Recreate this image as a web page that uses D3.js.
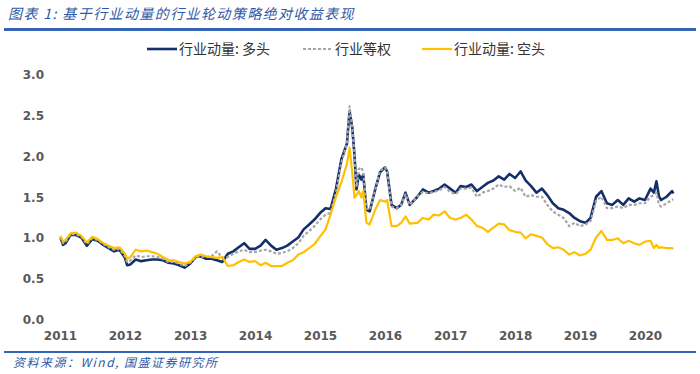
<!DOCTYPE html>
<html>
<head>
<meta charset="utf-8">
<script src="https://cdn.jsdelivr.net/npm/d3@7"></script>
<style>
  body { margin: 0; background: #fff; }
  svg { display: block; }
</style>
</head>
<body>
<svg id="chart" width="700" height="374"></svg>
<script>
// data
var dates = [
  "2011-01-04","2011-01-18","2011-02-01","2011-03-01","2011-04-01","2011-05-01","2011-06-01","2011-07-01","2011-08-01","2011-09-01","2011-10-01","2011-11-01","2011-12-01",
  "2012-01-01","2012-01-13","2012-02-01","2012-03-01","2012-04-01","2012-05-01","2012-06-01","2012-07-01","2012-08-01","2012-09-01","2012-10-01","2012-11-01","2012-12-01",
  "2013-01-01","2013-02-01","2013-03-01","2013-04-01","2013-05-01","2013-06-01","2013-07-01","2013-08-01","2013-09-01","2013-10-01","2013-11-01","2013-12-01",
  "2014-01-01","2014-02-01","2014-03-01","2014-04-01","2014-05-01","2014-06-01","2014-07-01","2014-08-01","2014-09-01","2014-10-01","2014-11-01","2014-12-01",
  "2015-01-01","2015-02-01","2015-03-01","2015-04-01","2015-05-01","2015-06-01","2015-06-16","2015-07-01","2015-07-14","2015-07-25","2015-08-07","2015-08-22","2015-09-01","2015-09-19","2015-10-07","2015-11-07","2015-12-04",
  "2016-01-01","2016-01-13","2016-02-07","2016-03-07","2016-04-01","2016-04-25","2016-05-19","2016-07-01","2016-08-01","2016-09-01","2016-10-01","2016-11-01","2016-12-01",
  "2017-01-01","2017-02-01","2017-03-01","2017-04-01","2017-05-01","2017-06-01","2017-07-01","2017-08-01","2017-09-01","2017-10-01","2017-11-01","2017-12-01",
  "2018-01-01","2018-02-01","2018-03-01","2018-04-01","2018-05-01","2018-06-01","2018-07-01","2018-08-01","2018-09-01","2018-10-01","2018-11-01","2018-12-01",
  "2019-01-01","2019-02-01","2019-03-01","2019-04-01","2019-05-01","2019-06-01","2019-07-01","2019-08-01","2019-09-01","2019-10-01","2019-11-01","2019-12-01",
  "2020-01-01","2020-02-01","2020-02-20","2020-03-05","2020-03-20","2020-04-01","2020-05-01","2020-06-01","2020-06-08"
];

// 行业动量: 多头
var longSide = [
  1.00,0.91,0.93,1.03,1.03,1.00,0.90,0.98,0.96,0.91,0.87,0.83,0.85,
  0.75,0.66,0.67,0.73,0.71,0.72,0.73,0.73,0.72,0.69,0.68,0.66,0.63,
  0.68,0.76,0.77,0.74,0.74,0.72,0.70,0.80,0.83,0.88,0.93,0.86,
  0.86,0.90,0.97,0.90,0.85,0.87,0.90,0.95,1.00,1.10,1.16,1.22,
  1.30,1.36,1.35,1.60,1.96,2.15,2.55,2.35,2.00,1.59,1.77,1.71,1.77,1.34,1.32,1.59,1.80,
  1.86,1.81,1.40,1.36,1.40,1.55,1.40,1.50,1.59,1.55,1.57,1.60,1.65,
  1.60,1.55,1.63,1.62,1.65,1.57,1.62,1.67,1.70,1.75,1.71,1.78,
  1.73,1.81,1.70,1.63,1.55,1.60,1.52,1.42,1.36,1.34,1.30,1.24,
  1.20,1.18,1.24,1.50,1.57,1.42,1.40,1.46,1.40,1.48,1.44,1.48,
  1.46,1.60,1.55,1.69,1.50,1.46,1.50,1.57,1.54
];

// 行业等权
var equalWeight = [
  1.01,0.93,0.95,1.04,1.04,1.01,0.92,0.99,0.97,0.92,0.88,0.85,0.86,
  0.77,0.70,0.72,0.78,0.76,0.77,0.77,0.76,0.74,0.70,0.70,0.68,0.65,
  0.69,0.76,0.77,0.76,0.77,0.83,0.75,0.76,0.80,0.83,0.85,0.82,
  0.82,0.84,0.85,0.83,0.80,0.81,0.83,0.87,0.93,1.02,1.08,1.14,
  1.22,1.28,1.30,1.55,1.92,2.15,2.61,2.35,2.00,1.62,1.84,1.86,1.80,1.36,1.34,1.58,1.82,
  1.86,1.80,1.38,1.36,1.40,1.53,1.40,1.50,1.56,1.54,1.56,1.58,1.62,
  1.56,1.53,1.60,1.60,1.61,1.50,1.55,1.57,1.60,1.65,1.62,1.63,
  1.57,1.61,1.50,1.52,1.50,1.50,1.40,1.32,1.28,1.24,1.14,1.18,
  1.14,1.16,1.20,1.45,1.50,1.36,1.36,1.38,1.36,1.40,1.40,1.42,
  1.42,1.50,1.52,1.55,1.40,1.38,1.42,1.46,1.47
];

// 行业动量: 空头
var shortSide = [
  1.02,0.95,0.97,1.05,1.06,1.02,0.94,1.01,0.98,0.93,0.90,0.87,0.88,
  0.80,0.74,0.76,0.85,0.83,0.84,0.82,0.80,0.76,0.72,0.72,0.70,0.68,
  0.70,0.77,0.79,0.77,0.76,0.75,0.76,0.65,0.66,0.70,0.73,0.70,
  0.71,0.66,0.69,0.65,0.65,0.65,0.69,0.72,0.79,0.82,0.87,0.92,
  1.01,1.10,1.28,1.50,1.68,1.90,2.10,1.80,1.49,1.52,1.57,1.49,1.57,1.18,1.16,1.34,1.46,
  1.44,1.46,1.14,1.14,1.18,1.26,1.17,1.18,1.24,1.22,1.28,1.27,1.32,
  1.24,1.22,1.24,1.28,1.22,1.14,1.12,1.07,1.12,1.17,1.16,1.09,
  1.07,1.06,0.99,1.04,1.02,1.00,0.92,0.87,0.88,0.85,0.79,0.82,
  0.78,0.80,0.85,1.00,1.08,0.97,0.97,0.99,0.93,0.96,0.93,0.91,
  0.95,0.96,0.87,0.91,0.87,0.88,0.87,0.87,0.86
];

var seriesNames = ["行业动量: 多头", "行业等权", "行业动量: 空头"];
var yTicks = [0, 0.5, 1.0, 1.5, 2.0, 2.5, 3.0];
var yearTicks = ["2011","2012","2013","2014","2015","2016","2017","2018","2019","2020"];

var titleText = "图表 1:  基于行业动量的行业轮动策略绝对收益表现";
var sourceText = "资料来源：Wind, 国盛证券研究所";

var colors = ["#14306b", "#a6a6a6", "#ffc000"];
var widths = [2.6, 2.2, 2.2];
var dashes = [null, "3,2", null];

var parseDate = d3.timeParse("%Y-%m-%d");
var parseYear = d3.timeParse("%Y");

var svg = d3.select("#chart");

var x = d3.scaleTime()
    .domain([parseYear("2011"), parseYear("2020")])
    .range([60, 645]);

var y = d3.scaleLinear()
    .domain([0, 3])
    .range([319, 74.5]);

// title + rules
svg.append("text")
    .attr("x", 8)
    .attr("y", 19)
    .attr("fill", "#2f5aa6")
    .style("font-family", "'Noto Sans CJK SC'")
    .style("font-style", "italic")
    .style("font-size", "14px")
    .style("letter-spacing", "1.4px")
    .text(titleText);

svg.append("rect")
    .attr("x", 4).attr("y", 28)
    .attr("width", 692).attr("height", 3)
    .attr("fill", "#3464b3");

svg.append("rect")
    .attr("x", 4).attr("y", 351)
    .attr("width", 692).attr("height", 2)
    .attr("fill", "#3464b3");

svg.append("text")
    .attr("x", 13)
    .attr("y", 367)
    .attr("fill", "#2f5aa6")
    .style("font-family", "'Noto Sans CJK SC'")
    .style("font-style", "italic")
    .style("font-size", "12px")
    .style("letter-spacing", "1.5px")
    .text(sourceText);

// axes (labels only, no domain lines)
var yAxis = svg.append("g")
    .attr("transform", "translate(44,0)")
    .call(d3.axisLeft(y).tickValues(yTicks).tickFormat(d3.format(".1f")).tickSize(0).tickPadding(0));

var xAxis = svg.append("g")
    .attr("transform", "translate(0,331)")
    .call(d3.axisBottom(x).tickValues(yearTicks.map(parseYear)).tickFormat(d3.timeFormat("%Y")).tickSize(0).tickPadding(0));

svg.selectAll(".domain").remove();
svg.selectAll(".tick text")
    .attr("fill", "#595959")
    .style("font-family", "'DejaVu Sans'")
    .style("font-weight", "bold")
    .style("font-size", "12px");
yAxis.selectAll(".tick text").attr("dy", "0.36em");
xAxis.selectAll(".tick text").attr("dy", "0.71em");

// lines
var parsed = dates.map(parseDate);
var allSeries = [longSide, equalWeight, shortSide];

var line = d3.line()
    .x(function(d, i) { return x(parsed[i]); })
    .y(function(d) { return y(d); });

allSeries.forEach(function(vals, k) {
    svg.append("path")
        .datum(vals)
        .attr("fill", "none")
        .attr("stroke", colors[k])
        .attr("stroke-width", widths[k])
        .attr("stroke-dasharray", dashes[k])
        .attr("stroke-linejoin", "round")
        .attr("d", line);
});

// legend
var legendX = [147, 303, 422];
var legend = svg.append("g").attr("transform", "translate(0,49)");
seriesNames.forEach(function(name, k) {
    legend.append("line")
        .attr("x1", legendX[k]).attr("x2", legendX[k] + 30)
        .attr("y1", 0).attr("y2", 0)
        .attr("stroke", colors[k])
        .attr("stroke-width", widths[k])
        .attr("stroke-dasharray", dashes[k]);
    legend.append("text")
        .attr("x", legendX[k] + 32)
        .attr("y", 0)
        .attr("dy", "0.35em")
        .attr("fill", "#333")
        .style("font-family", "'Noto Sans CJK SC'")
        .style("font-size", "14px")
        .text(name);
});
</script>
</body>
</html>
